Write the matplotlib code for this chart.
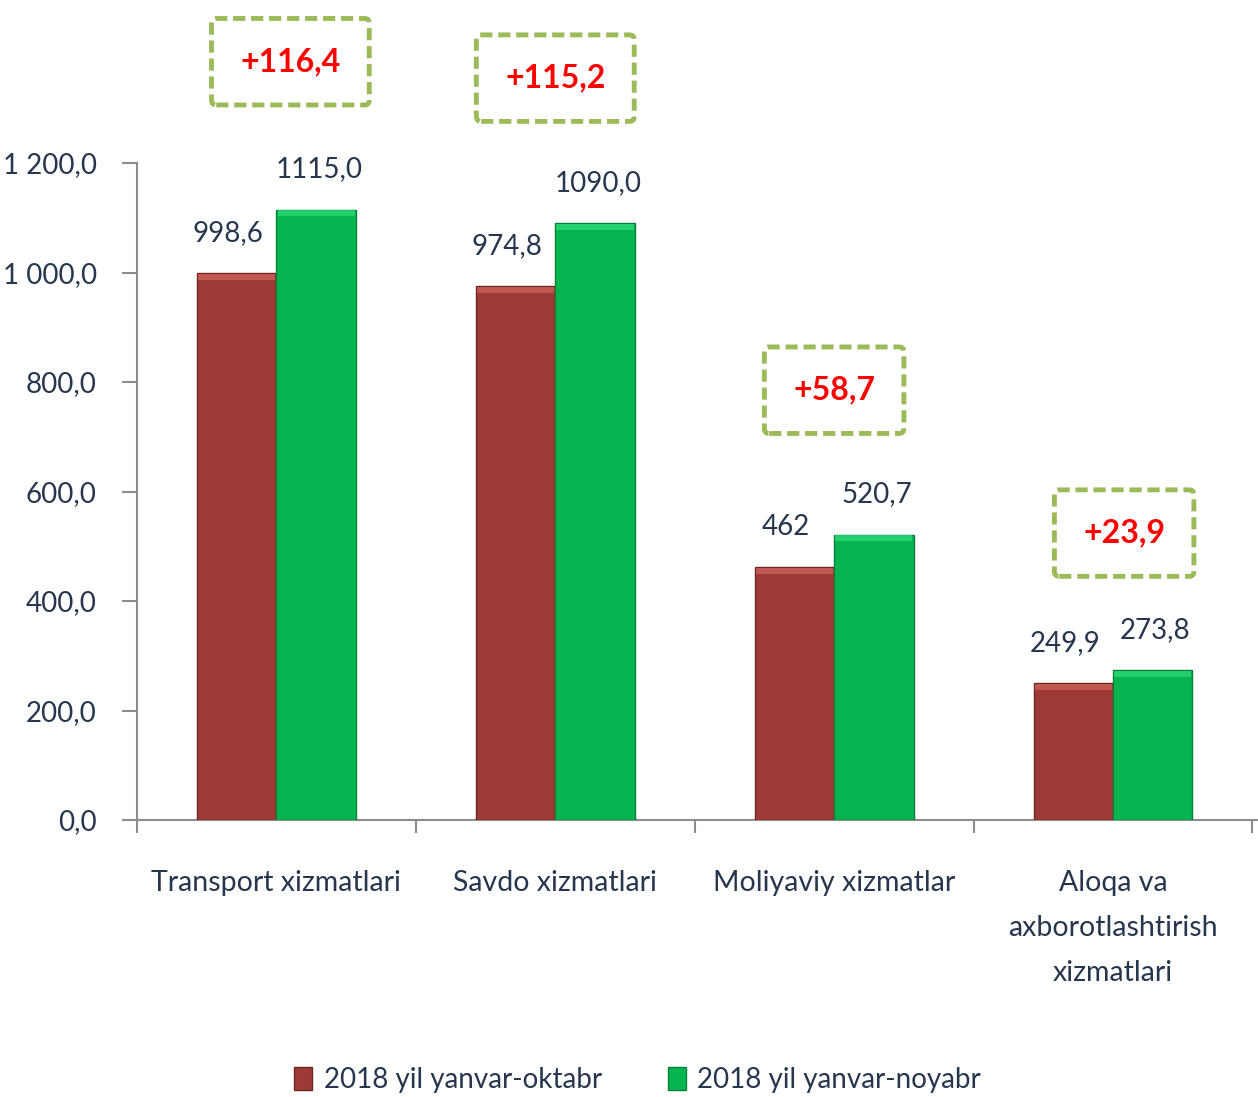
import matplotlib
matplotlib.use('Agg')
import matplotlib.pyplot as plt
import numpy as np
from matplotlib.ticker import FuncFormatter, FixedLocator

plt.rcParams['font.family'] = ['Lato', 'DejaVu Sans']

# Data
categories = ['Transport xizmatlari', 'Savdo xizmatlari', 'Moliyaviy xizmatlar',
              'Aloqa va\naxborotlashtirish\nxizmatlari']
oct_values = [998.6, 974.8, 462.0, 249.9]
nov_values = [1115.0, 1090.0, 520.7, 273.8]
oct_labels = ['998,6', '974,8', '462', '249,9']
nov_labels = ['1115,0', '1090,0', '520,7', '273,8']
series_names = ['2018 yil yanvar-oktabr', '2018 yil yanvar-noyabr']
# where the growth boxes sit (data y)
box_y = [1385, 1355, 785, 524]
box_dx = [0.05, 0.0, 0.0, 0.04]

red = '#9E3A36'
green = '#08B450'
text_col = '#27364E'

fig = plt.figure(figsize=(12.58, 10.97), dpi=100)
ax = fig.add_axes([137 / 1258, 1 - 820 / 1097, 1 - 137 / 1258, 657 / 1097])

x = np.arange(len(categories))
w = 0.285
b1 = ax.bar(x - w / 2, oct_values, w, color=red, edgecolor='#6E2623', linewidth=1.0,
            label=series_names[0], zorder=3)
b2 = ax.bar(x + w / 2, nov_values, w, color=green, edgecolor='#06803A', linewidth=1.0,
            label=series_names[1], zorder=3)

# lighter bevel on top of each bar
for bars, col in ((b1, '#C9605A'), (b2, '#2BD872')):
    for r in bars:
        ax.add_patch(plt.Rectangle((r.get_x() + 0.004, r.get_height() - 12), r.get_width() - 0.008, 11,
                                   color=col, zorder=4, linewidth=0, alpha=0.8))

for xi, v, s in zip(x, oct_values, oct_labels):
    ax.text(xi - w / 2 - 0.03, v + 50, s, ha='center', va='bottom', fontsize=20, color=text_col)
for xi, v, s in zip(x, nov_values, nov_labels):
    ax.text(xi + w / 2 + 0.01, v + 50, s, ha='center', va='bottom', fontsize=20, color=text_col)

# growth boxes
for xi, a, b, by, dx in zip(x, oct_values, nov_values, box_y, box_dx):
    diff = '+' + f'{b - a:.1f}'.replace('.', ',')
    ax.text(xi + dx, by, diff, ha='center', va='center', fontsize=23, fontweight='bold',
            color='#FF0000', clip_on=False,
            bbox=dict(boxstyle='round,pad=0.9,rounding_size=0.15', facecolor='white',
                      edgecolor='#9BBB59', linewidth=3.5, linestyle=(0, (2.5, 1.2))))

ax.set_xlim(-0.5, 3.5 + 0.02)
ax.set_ylim(0, 1200)
ax.yaxis.set_major_locator(FixedLocator(np.arange(0, 1201, 200)))
ax.yaxis.set_major_formatter(FuncFormatter(
    lambda v, p: f'{v:,.1f}'.replace(',', ' ').replace('.', ',')))

ax.set_xticks(x)
ax.set_xticklabels(categories, fontsize=20.5, color=text_col, linespacing=1.9)
ax.tick_params(axis='x', length=0, pad=36)
ax.set_xticks(np.arange(-0.5, 4.0, 1.0), minor=True)
ax.tick_params(axis='x', which='minor', length=9, color='#8C8C8C', width=1.5)
ax.tick_params(axis='y', length=11, color='#8C8C8C', width=1.5, labelsize=20,
               labelcolor=text_col, pad=18)

for s in ('top', 'right'):
    ax.spines[s].set_visible(False)
for s in ('left', 'bottom'):
    ax.spines[s].set_color('#8C8C8C')
    ax.spines[s].set_linewidth(1.5)

fig.legend(handles=[b1, b2], labels=series_names, loc='center', bbox_to_anchor=(0.507, 1 - 1080 / 1097),
           ncol=2, frameon=False, fontsize=20, handlelength=0.65, handleheight=0.9,
           handletextpad=0.4, columnspacing=2.4, labelcolor=text_col)

fig.savefig('out.png', dpi=100)
